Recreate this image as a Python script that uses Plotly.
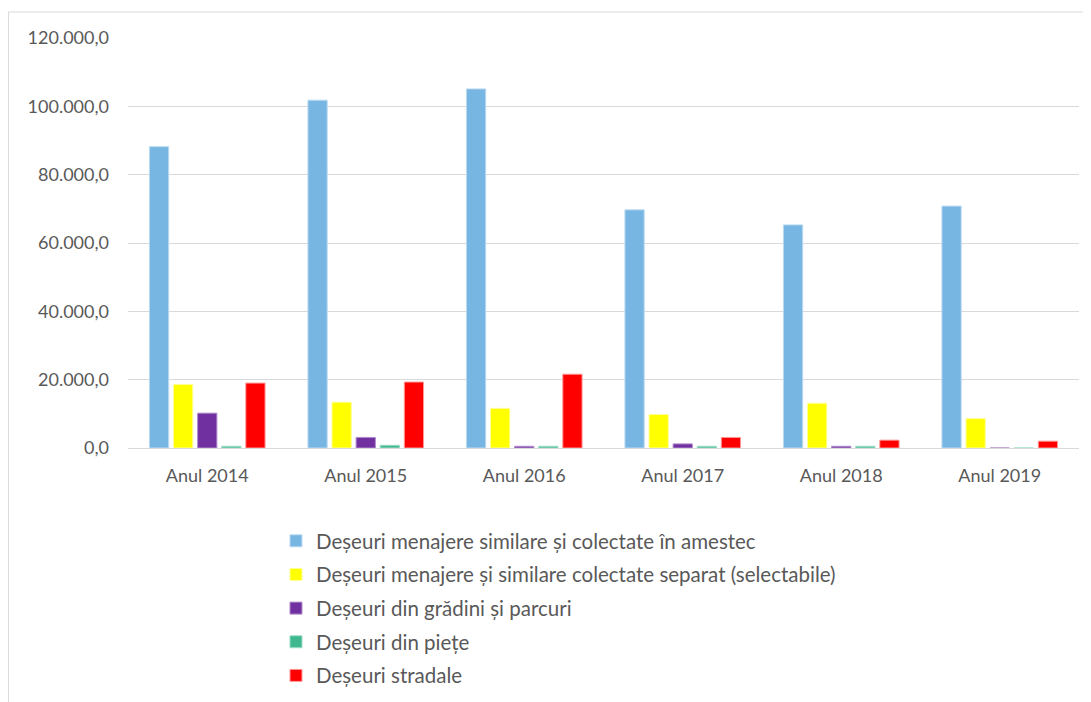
import plotly.graph_objects as go

categories = ["Anul 2014", "Anul 2015", "Anul 2016", "Anul 2017", "Anul 2018", "Anul 2019"]
series_names = [
    "Deșeuri menajere similare și colectate în amestec",
    "Deșeuri menajere și similare colectate separat (selectabile)",
    "Deșeuri din grădini și parcuri",
    "Deșeuri din piețe",
    "Deșeuri stradale",
]
amestec = [88200, 101800, 105100, 69700, 65300, 70800]
separat = [18600, 13400, 11600, 9800, 13100, 8600]
gradini = [10200, 3100, 500, 1200, 500, 0]
piete = [500, 800, 500, 500, 500, 0]
stradale = [19000, 19300, 21600, 3100, 2300, 2000]
series_values = [amestec, separat, gradini, piete, stradale]
colors = ["#77b5e3", "#ffff00", "#7030a0", "#3fb88f", "#ff0000"]
edge_colors = ["#bcdaf1", "#ffff99", "#b08ccc", "#9fdcc7", "#ff9999"]

fig = go.Figure()
for i, (name, vals) in enumerate(zip(series_names, series_values)):
    fig.add_trace(go.Bar(
        x=categories, y=vals, name=name,
        marker=dict(color=colors[i], line=dict(color=edge_colors[i], width=1)),
        legendgroup=f"g{i}",
    ))

fig.update_layout(
    width=1091, height=702,
    margin=dict(l=120, r=20, t=30, b=262, autoexpand=False),
    paper_bgcolor="white", plot_bgcolor="white",
    barmode="group", bargap=0.24, bargroupgap=0.2,
    separators=",.",
    font=dict(family="Lato, Open Sans, sans-serif", color="#595959", size=15),
    showlegend=True,
    legend=dict(
        x=0.1556, y=-0.178, xanchor="left", yanchor="top",
        orientation="v", traceorder="grouped", tracegroupgap=4,
        font=dict(size=20.5, color="#595959"),
        bgcolor="rgba(0,0,0,0)",
        itemwidth=30,
    ),
    shapes=[dict(
        type="rect", xref="paper", yref="paper",
        x0=-0.1257, x1=1.03, y0=-0.66, y1=1.0634,
        line=dict(color="#d9d9d9", width=1), fillcolor="rgba(0,0,0,0)", layer="below",
    )],
)
fig.update_yaxes(
    range=[0, 120000], dtick=20000, tickformat=",.1f",
    showgrid=True, gridcolor="#d9d9d9", gridwidth=1,
    zeroline=True, zerolinecolor="#d9d9d9", zerolinewidth=1,
    showline=False, ticks="", ticklabelstandoff=18, automargin=False,
    tickfont=dict(size=18, color="#595959"),
)
fig.update_xaxes(
    showline=False, ticks="", ticklabelstandoff=15, automargin=False,
    tickfont=dict(size=18, color="#595959"),
)

fig.write_html("out.html")
